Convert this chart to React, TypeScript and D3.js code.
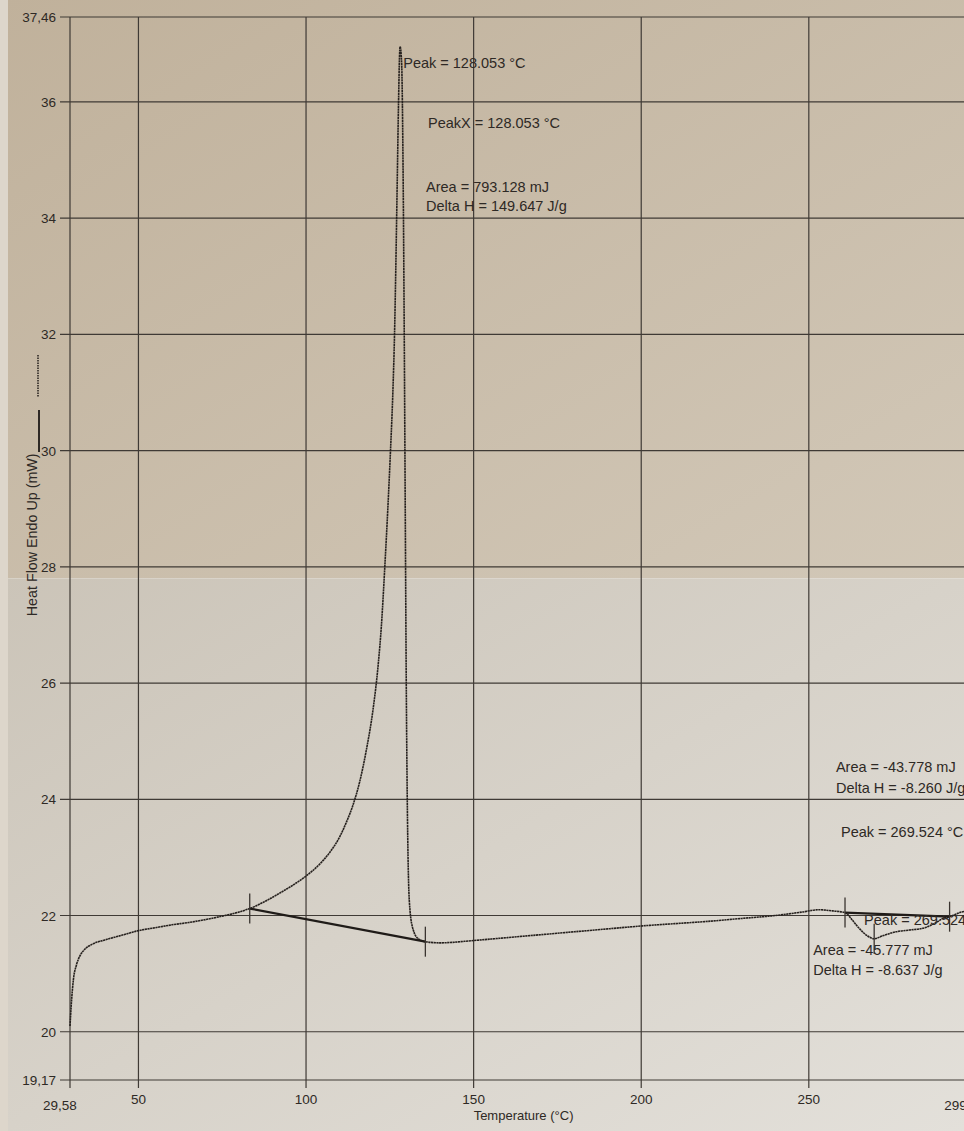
import React, { useRef, useEffect } from 'react';
import * as d3 from 'd3';

// DSC heating scan
const temperature = [
  29.58, 30.0, 30.6, 31.5, 32.5, 34, 36, 40, 45, 50, 55, 60, 65, 70, 75, 80, 83.2,
  88, 92, 96, 100, 104, 107, 110, 112, 114, 116, 118, 120, 121.5, 122.5, 123.5,
  124.4, 125.2, 125.9, 126.4, 126.8, 127.2, 127.6, 127.9, 128.05, 128.5, 129.0,
  129.3, 129.6, 129.9, 130.2, 130.5, 131.0, 132.0, 133.5, 135.6, 140, 150, 160, 170,
  180, 190, 200, 210, 220, 230, 240, 248, 253, 257, 260.8, 263, 265, 267.5, 269.5,
  272, 276, 280, 284, 288, 290, 292, 295, 299.58,
];
const heatFlow = [
  20.1, 20.5, 20.9, 21.15, 21.3, 21.42, 21.5, 21.58, 21.66, 21.74, 21.79, 21.84,
  21.88, 21.93, 21.99, 22.06, 22.12, 22.25, 22.38, 22.52, 22.68, 22.88, 23.08,
  23.35, 23.6, 23.9, 24.3, 24.85, 25.55, 26.3, 27.0, 28.0, 29.0, 30.0, 31.0, 32.0,
  33.2, 34.6, 36.0, 36.8, 36.95, 36.7, 34.5, 32.0, 29.0, 26.0, 24.0, 22.8, 22.1,
  21.75, 21.6, 21.55, 21.53, 21.57, 21.62, 21.67, 21.72, 21.77, 21.82, 21.86, 21.9,
  21.95, 22.0, 22.06, 22.1, 22.08, 22.05, 21.92, 21.78, 21.65, 21.6, 21.65, 21.72,
  21.75, 21.78, 21.88, 21.95, 21.98, 22.05, 22.1,
];

// integration baselines (start, end)
const baselineTemps = [[83.2, 135.6], [260.8, 292.0]];
const baselineFlows = [[22.12, 21.55], [22.05, 21.98]];

// limit / peak markers
const markerTemps = [83.2, 135.6, 260.8, 269.5, 292.0];
const markerFlows = [22.12, 21.55, 22.05, 21.6, 21.98];

const xTicks = [50, 100, 150, 200, 250];
const xEnds = [29.58, 299.58];
const xEndLabels = ['29,58', '299,58'];
const yTicks = [20, 22, 24, 26, 28, 30, 32, 34, 36];
const yEnds = [19.17, 37.46];
const yEndLabels = ['19,17', '37,46'];

const annotationText = [
  'Peak = 128.053 °C',
  'PeakX = 128.053 °C',
  'Area = 793.128 mJ',
  'Delta H = 149.647 J/g',
  'Area = -43.778 mJ',
  'Delta H = -8.260 J/g',
  'Peak = 269.524 °C',
  'Peak = 269.524 °C',
  'Area = -45.777 mJ',
  'Delta H = -8.637 J/g',
];
const annotationTemp = [129.0, 136.4, 135.8, 135.8, 258.1, 258.1, 259.6, 266.5, 251.3, 251.3];
const annotationFlow = [36.58, 35.55, 34.45, 34.12, 24.47, 24.11, 23.35, 21.84, 21.32, 20.98];

const W = 964;
const H = 1131;
const FONT = '"Liberation Sans", Arial, sans-serif';
const INK = '#2e2925';

const App = () => {
  const ref = useRef<SVGSVGElement>(null);

  useEffect(() => {
    const svg = d3.select(ref.current);
    svg.selectAll('*').remove();

    const x = d3.scaleLinear().domain(xEnds).range([70, 975]);
    const y = d3.scaleLinear().domain(yEnds).range([1080, 17]);

    // photographed paper
    const defs = svg.append('defs');
    const top = defs.append('linearGradient').attr('id', 'paperTop')
      .attr('x1', 0).attr('y1', 0).attr('x2', 1).attr('y2', 1);
    top.append('stop').attr('offset', '0%').attr('stop-color', '#c0b19b');
    top.append('stop').attr('offset', '100%').attr('stop-color', '#d2c8b8');
    const bottom = defs.append('linearGradient').attr('id', 'paperBottom')
      .attr('x1', 0).attr('y1', 0).attr('x2', 1).attr('y2', 1);
    bottom.append('stop').attr('offset', '0%').attr('stop-color', '#cbc4b8');
    bottom.append('stop').attr('offset', '100%').attr('stop-color', '#e3e0da');

    const fold = y(27.8);
    svg.append('rect').attr('width', W).attr('height', fold).attr('fill', 'url(#paperTop)');
    svg.append('rect').attr('y', fold).attr('width', W).attr('height', H - fold)
      .attr('fill', 'url(#paperBottom)');
    svg.append('rect').attr('width', 8).attr('height', H).attr('fill', '#ddd6cb');

    const [x0, x1] = x.range();
    const [y0, y1] = y.range();

    // grid
    const grid = svg.append('g').attr('stroke', '#3f3a35').attr('stroke-width', 1.2);
    grid.selectAll('line.h').data(yTicks.concat(yEnds)).enter().append('line')
      .attr('x1', x0 - 10).attr('x2', x1)
      .attr('y1', (d) => y(d)).attr('y2', (d) => y(d));
    grid.selectAll('line.v').data(xTicks.concat(xEnds)).enter().append('line')
      .attr('x1', (d) => x(d)).attr('x2', (d) => x(d))
      .attr('y1', y1).attr('y2', y0 + 8);

    // tick labels
    const yLab = svg.append('g').attr('font-family', FONT).attr('font-size', 13.5)
      .attr('fill', INK).attr('text-anchor', 'end');
    yLab.selectAll('text.t').data(yTicks).enter().append('text')
      .attr('x', x0 - 14).attr('y', (d) => y(d) + 5).text((d) => d);
    yLab.selectAll('text.e').data(yEnds).enter().append('text')
      .attr('x', x0 - 14).attr('y', (d) => y(d) + 5).text((d, i) => yEndLabels[i]);

    const xLab = svg.append('g').attr('font-family', FONT).attr('font-size', 13.5)
      .attr('fill', INK).attr('text-anchor', 'middle');
    xLab.selectAll('text.t').data(xTicks).enter().append('text')
      .attr('x', (d) => x(d)).attr('y', y0 + 24).text((d) => d);
    xLab.selectAll('text.e').data(xEnds).enter().append('text')
      .attr('x', (d) => x(d) - 10).attr('y', y0 + 30).text((d, i) => xEndLabels[i]);

    svg.append('text').attr('x', x(150)).attr('y', y0 + 40)
      .attr('font-family', FONT).attr('font-size', 13).attr('fill', INK)
      .text('Temperature (°C)');

    svg.append('text').attr('transform', `translate(37,${y(28.55)}) rotate(-90)`)
      .attr('text-anchor', 'middle').attr('font-family', FONT).attr('font-size', 14.3)
      .attr('fill', INK).text('Heat Flow Endo Up (mW)');
    // legend strokes beside the axis title
    svg.append('line').attr('x1', 39).attr('x2', 39).attr('y1', 410).attr('y2', 452)
      .attr('stroke', INK).attr('stroke-width', 2);
    svg.append('line').attr('x1', 38).attr('x2', 38).attr('y1', 355).attr('y2', 397)
      .attr('stroke', INK).attr('stroke-width', 1.6).attr('stroke-dasharray', '1.5,1');

    // the scan
    const pts = temperature.map((t, i) => [t, heatFlow[i]] as [number, number]);
    const line = d3.line<[number, number]>()
      .x((d) => x(d[0])).y((d) => y(d[1]))
      .curve(d3.curveMonotoneX);
    svg.append('path').datum(pts).attr('d', line)
      .attr('fill', 'none').attr('stroke', '#26211e').attr('stroke-width', 1.6)
      .attr('stroke-dasharray', '2.2,0.5');

    // baselines
    svg.append('g').selectAll('line').data(baselineTemps).enter().append('line')
      .attr('x1', (d) => x(d[0])).attr('x2', (d) => x(d[1]))
      .attr('y1', (d, i) => y(baselineFlows[i][0]))
      .attr('y2', (d, i) => y(baselineFlows[i][1]))
      .attr('stroke', '#1f1b18').attr('stroke-width', 2.2);

    // markers
    svg.append('g').selectAll('line').data(markerTemps).enter().append('line')
      .attr('x1', (d) => x(d)).attr('x2', (d) => x(d))
      .attr('y1', (d, i) => y(markerFlows[i]) - 15)
      .attr('y2', (d, i) => y(markerFlows[i]) + 15)
      .attr('stroke', '#3a3430').attr('stroke-width', 1.3);

    // result annotations
    svg.append('g').attr('font-family', FONT).attr('font-size', 14.5).attr('fill', INK)
      .selectAll('text').data(annotationText).enter().append('text')
      .attr('x', (d, i) => x(annotationTemp[i]))
      .attr('y', (d, i) => y(annotationFlow[i]))
      .text((d) => d);
  }, []);

  return (
    <svg
      ref={ref}
      width={W}
      height={H}
      style={{ position: 'absolute', left: 0, top: 0, display: 'block' }}
    />
  );
};

export default App;
